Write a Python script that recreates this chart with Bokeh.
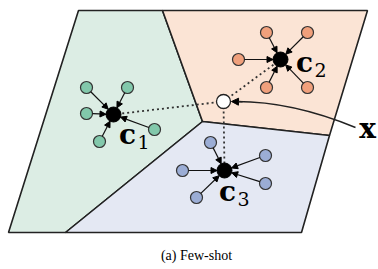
import numpy as np
from bokeh.plotting import figure
from bokeh.models import Range1d, Arrow, NormalHead, ColumnDataSource
from bokeh.core.properties import value
from bokeh.embed import file_html
from bokeh.resources import INLINE

# ---- data (image pixel coordinates, y downward) ----
region_green_x = [78, 162, 202, 65, 8]
region_green_y = [10, 10, 121, 232, 232]
region_orange_x = [162, 367, 329, 202]
region_orange_y = [10, 10, 135, 121]
region_blue_x = [202, 329, 301, 65]
region_blue_y = [121, 135, 232, 232]

class1_x = [86, 127, 86, 154, 99]
class1_y = [87, 87, 113, 129, 141]
class2_x = [266, 307, 238, 266, 307]
class2_y = [32, 32, 59, 87, 87]
class3_x = [210, 182, 196, 265, 265]
class3_y = [142, 170, 197, 155, 183]

proto_x = [113, 280, 224]
proto_y = [114, 59, 170]
proto_labels = ["c", "c", "c"]
proto_subs = ["1", "2", "3"]

query_x = 223
query_y = 101
query_label = "x"
caption = "(a) Few-shot"

green_fill, orange_fill, blue_fill = "#dcede4", "#fbe4d5", "#e4e8f3"
green_pt, orange_pt, blue_pt = "#82c8ab", "#f0a07c", "#9badd5"
edge = "#222222"

p = figure(width=378, height=269, output_backend="svg", toolbar_location=None,
           x_range=Range1d(0, 378), y_range=Range1d(269, 0),
           min_border=0, outline_line_color=None)
p.axis.visible = False
p.grid.visible = False
p.background_fill_color = "white"

for xs, ys, c in [(region_green_x, region_green_y, green_fill),
                  (region_orange_x, region_orange_y, orange_fill),
                  (region_blue_x, region_blue_y, blue_fill)]:
    p.patch(xs, ys, fill_color=c, line_color=edge, line_width=1.6)

# dotted lines from query to prototypes
for px, py in zip(proto_x, proto_y):
    p.line([query_x, px], [query_y, py], line_color="#333333", line_width=1.8,
           line_dash="2 3")

# arrows from support points to prototypes
r_s, r_p = 6.0, 7.5
for xs, ys, (px, py) in [(class1_x, class1_y, (proto_x[0], proto_y[0])),
                         (class2_x, class2_y, (proto_x[1], proto_y[1])),
                         (class3_x, class3_y, (proto_x[2], proto_y[2]))]:
    xs_a = np.array(xs, float)
    ys_a = np.array(ys, float)
    dx = px - xs_a
    dy = py - ys_a
    d = np.hypot(dx, dy)
    ux, uy = dx / d, dy / d
    src = ColumnDataSource(dict(x0=xs_a + ux * r_s, y0=ys_a + uy * r_s,
                                x1=px - ux * r_p, y1=py - uy * r_p))
    p.add_layout(Arrow(end=NormalHead(size=6, fill_color="black", line_color="black"),
                       x_start="x0", y_start="y0", x_end="x1", y_end="y1",
                       line_color="#111111", line_width=1.2, source=src))

# support points
p.scatter(class1_x, class1_y, size=12, fill_color=green_pt, line_color="#333333", line_width=1.2)
p.scatter(class2_x, class2_y, size=12, fill_color=orange_pt, line_color="#333333", line_width=1.2)
p.scatter(class3_x, class3_y, size=12, fill_color=blue_pt, line_color="#333333", line_width=1.2)

# prototypes
p.scatter(proto_x, proto_y, size=15, fill_color="black", line_color="black")

# query point
p.scatter([query_x], [query_y], size=14, fill_color="white", line_color="#222222", line_width=1.3)

# curved arrow from label x to the query point
p.quadratic(x0=[355], y0=[127], x1=[236], y1=[101], cx=[292], cy=[101],
            line_color="#222222", line_width=1.4)
p.add_layout(Arrow(end=NormalHead(size=7, fill_color="black", line_color="black"),
                   x_start=242, y_start=101.3, x_end=231, y_end=101,
                   line_color="#222222", line_width=1.4))

# labels
label_dx = [14, 24, 3]
label_dy = [20, 3, 21]
for px, py, lab, sub, ddx, ddy in zip(proto_x, proto_y, proto_labels, proto_subs, label_dx, label_dy):
    p.text([px + ddx], [py + ddy], text=[lab], text_font=value("DejaVu Serif"),
           text_font_style="bold", text_font_size="28px", text_align="center",
           text_baseline="middle", text_color="black")
    p.text([px + ddx + 16], [py + ddy + 7], text=[sub], text_font=value("DejaVu Serif"),
           text_font_size="19px", text_align="center", text_baseline="middle",
           text_color="black")

p.text([367], [128], text=[query_label], text_font=value("DejaVu Serif"),
       text_font_style="bold", text_font_size="28px", text_align="center",
       text_baseline="middle", text_color="black")

p.text([196], [255], text=[caption], text_font=value("Liberation Serif"),
       text_font_size="14px", text_align="center", text_baseline="middle",
       text_color="black")

open("out.html", "w").write(file_html(p, INLINE))
